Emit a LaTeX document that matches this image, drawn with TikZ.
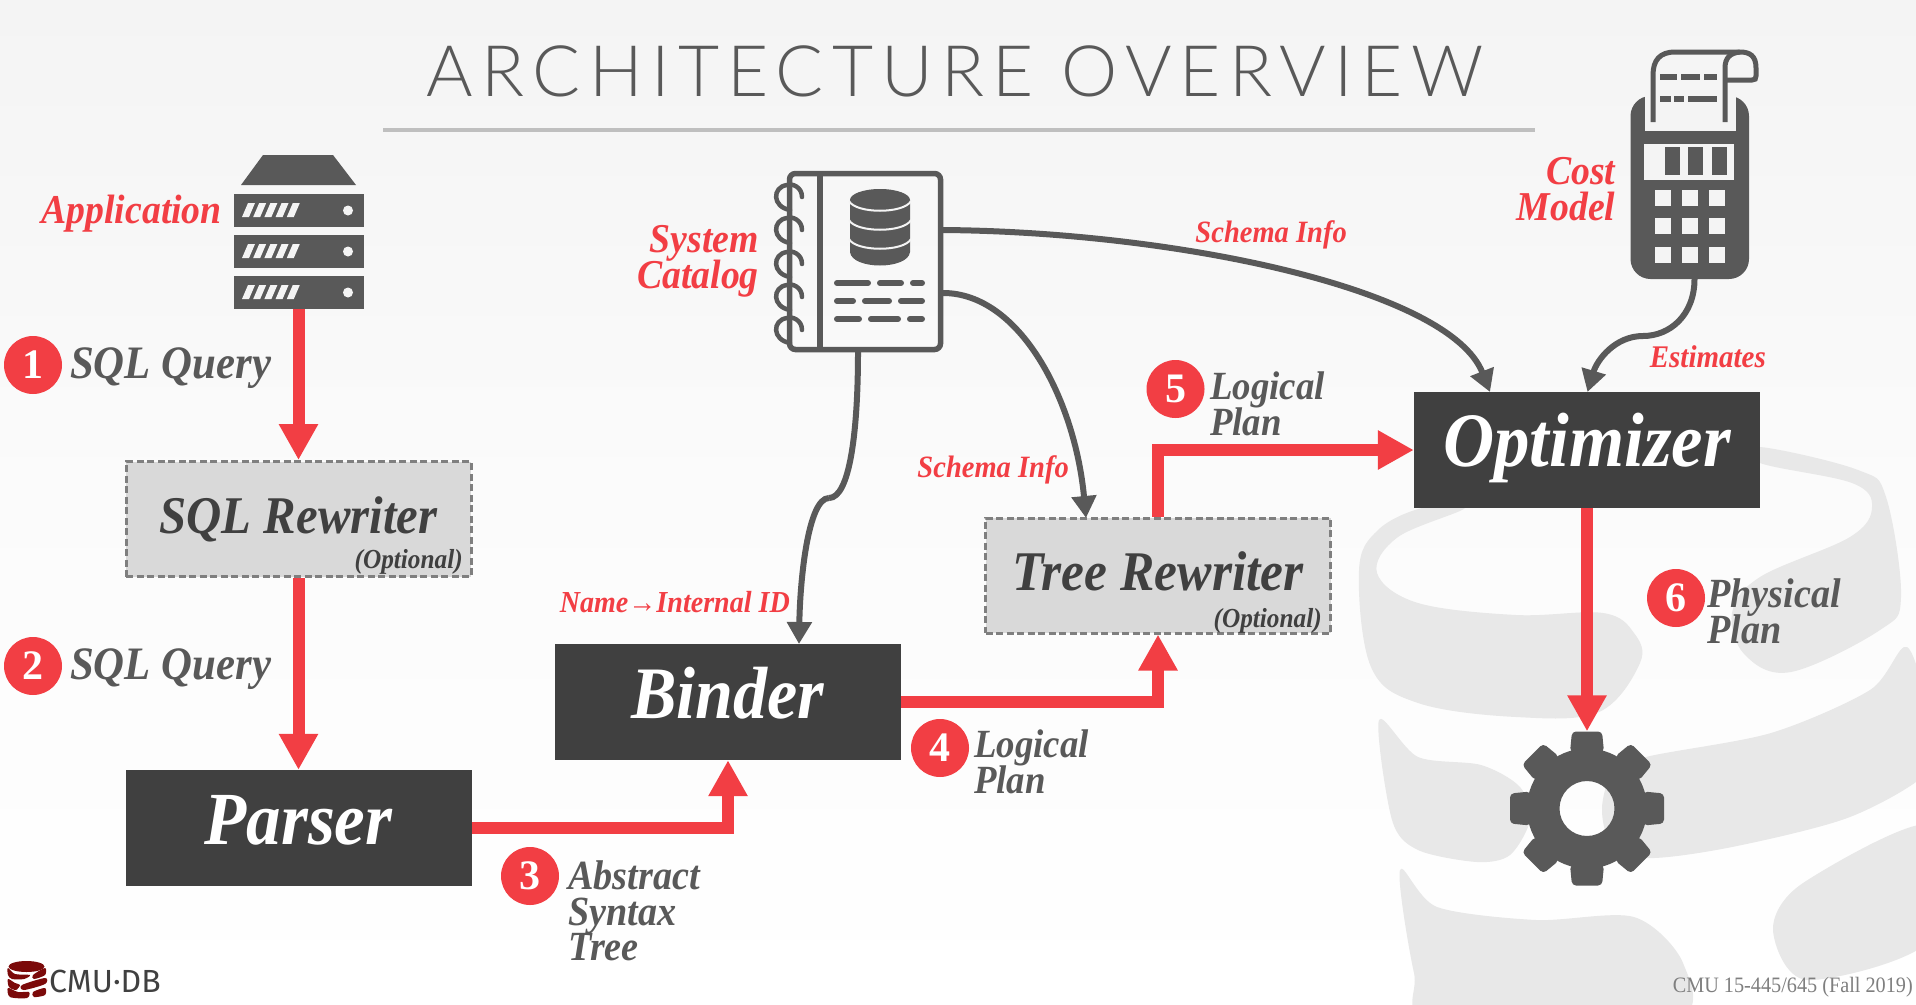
\documentclass[tikz,border=0pt]{standalone}
\usepackage{fontspec}
\setmainfont{Liberation Serif}
\newfontfamily\handfamily[FakeStretch=0.92]{Liberation Serif}
\newfontfamily\titlefamily[LetterSpace=11.7]{Lato Light}
\newfontfamily\logofamily{Fira Sans}
\usetikzlibrary{arrows.meta}
\AtBeginDocument{\lineskiplimit=-100pt\relax}

\definecolor{slidered}{HTML}{F23E44}
\definecolor{icondark}{HTML}{595959}
\definecolor{boxdark}{HTML}{404040}
\definecolor{boxlight}{HTML}{D9D9D9}
\definecolor{boxdash}{HTML}{7F7F7F}
\definecolor{wmark}{HTML}{E8E8E8}
\definecolor{bgtop}{HTML}{F4F4F4}
\definecolor{logored}{HTML}{7B0A0A}

\tikzset{
  hand/.style={font=\handfamily\fontsize{#1}{35.5}\selectfont\bfseries\itshape},
  redtext/.style={hand=#1, text=slidered, inner sep=0, anchor=base east, align=right},
  greytext/.style={hand=#1, text=icondark, inner sep=0, anchor=base west, align=left},
  darkbox/.style={fill=boxdark, text=white, hand=#1, minimum width=346, minimum height=116, inner sep=0, text height=33, text depth=0},
  optbox/.style={fill=boxlight, draw=boxdash, line width=3, dash pattern=on 7 off 3.5, text=boxdark, hand=#1, minimum width=345, minimum height=115, inner sep=0, text height=29, text depth=0},
  optnote/.style={hand=27.5, text=boxdark, inner sep=0, anchor=base east},
  badge/.style={circle, fill=slidered, text=white, font=\fontsize{42}{42}\selectfont\bfseries, minimum size=58, inner sep=0},
  flow/.style={draw=slidered, line width=12, -{Triangle[length=36,width=37,sep=0]}},
  info/.style={draw=icondark, line width=6, -{Triangle[length=22,width=24,sep=0]}},
  iconline/.style={draw=icondark, line width=5, line cap=round},
}

\begin{document}
\begin{tikzpicture}[x=1pt, y=-1pt]

\useasboundingbox (0,0) rectangle (1916,1004);
\shade[top color=bgtop, bottom color=white, middle color=bgtop!35!white] (0,0) rectangle (1916,1004);

% watermark
\begin{scope}
\clip (0,0) rectangle (1916,1004);
\fill[wmark] plot[smooth cycle, tension=0.6] coordinates {(1422,508) (1378,530) (1359,570) (1371,667) (1418,703) (1516,717) (1599,712) (1640,663) (1634,633) (1603,613) (1516,615) (1418,603) (1377,573) (1398,537) (1465,508)};
\fill[wmark] plot[smooth cycle, tension=0.6] coordinates {(1760,447) (1858,470) (1886,497) (1901,597) (1880,630) (1791,672) (1745,655) (1732,613) (1760,577) (1850,537) (1872,507) (1852,483) (1760,463)};
\fill[wmark] plot[smooth cycle, tension=0.5] coordinates {(1646,757) (1771,733) (1870,690) (1907,647) (1930,720) (1930,770) (1850,817) (1732,847) (1646,858) (1610,840) (1602,808) (1612,775)};
\fill[wmark] plot[smooth cycle, tension=0.5] coordinates {(1379,720) (1418,757) (1481,765) (1520,787) (1530,820) (1510,855) (1477,862) (1418,850) (1392,820)};
\fill[wmark] plot[smooth cycle, tension=0.5] coordinates {(1400,870) (1437,907) (1536,920) (1634,917) (1683,963) (1673,1020) (1434,1020) (1414,973)};
\fill[wmark] plot[smooth cycle, tension=0.5] coordinates {(1930,825) (1803,883) (1773,930) (1807,980) (1930,940)};
\end{scope}

% title
\node[font=\titlefamily\fontsize{71}{71}\selectfont, text=icondark, inner sep=0, anchor=base] (title) at (955,96.5) {ARCHITECTURE OVERVIEW};
\fill[white!75!black] (383,128.2) rectangle (1535,131.8);

% boxes
\node[optbox=53] (sqlrw) at (298.5,519) {SQL Rewriter};
\node[darkbox=75] (parser) at (298.5,828) {Parser};
\node[darkbox=74] (binder) at (728,702) {Binder};
\node[optbox=56] (treerw) at (1158,575.5) {Tree Rewriter};
\node[darkbox=77] (optimizer) at (1587,450) {Optimizer};
\node[optnote] (sqlnote) at (463,568) {(Optional)};
\node[optnote] (treenote) at (1322,627) {(Optional)};

% server
\node[minimum width=130, minimum height=154, inner sep=0] (app) at (298.5,232) {};
\fill[icondark] (263,155) -- (333,155) -- (356,185) -- (241,185) -- cycle;
\foreach \y in {194,235,276} {
  \fill[icondark] (233.5,\y) rectangle (363.5,\y+33);
  \fill[bgtop] (348,\y+16.5) circle (5);
  \foreach \i in {0,...,4}
    \fill[bgtop] (242+\i*11.2,\y+23) -- (249+\i*11.2,\y+23) -- (255+\i*11.2,\y+9) -- (248+\i*11.2,\y+9) -- cycle;
}

% notebook
\node[minimum width=156, minimum height=181, inner sep=0] (catalog) at (865,261.5) {};
\draw[icondark, line width=5.5, rounded corners=6] (789.5,173.5) rectangle (940.5,349.5);
\draw[icondark, line width=5.5] (820,173.5) -- (820,349.5);
\foreach \y in {195,228,262,295,328}
  \draw[icondark, line width=4.5, line cap=round] (802,\y+2) .. controls (802,\y-8) and (792,\y-12) .. (787,\y-10) .. controls (772,\y-8) and (772,\y+12) .. (790,\y+15);
\fill[icondark] (850,200) -- (850,252) .. controls (852,270) and (908,270) .. (910,252) -- (910,200) -- cycle;
\fill[icondark] (880,200) ellipse (30 and 11);
\foreach \y in {201,220,239}
  \draw[bgtop, line width=2] (849,\y) .. controls (856,\y+13) and (904,\y+13) .. (911,\y);
\foreach \y/\a/\b/\c/\d/\e/\f in {283/834/871/877/904/910/925, 301/834/856/862/892/898/925, 319/834/862/868/901/907/925} {
  \draw[iconline, line width=6] (\a+3,\y) -- (\b-3,\y);
  \draw[iconline, line width=6] (\c+3,\y) -- (\d-3,\y);
  \draw[iconline, line width=6] (\e+3,\y) -- (\f-3,\y);
}

% calculator
\node[minimum width=118, minimum height=183, inner sep=0] (cost) at (1690,187.5) {};
\fill[icondark, rounded corners=20] (1630.5,96) rectangle (1749,279);
\fill[bgtop] (1645,90) rectangle (1735.5,130.7);
\fill[bgtop] (1643.5,143.7) rectangle (1734,180);
\foreach \x in {1665,1688,1712}
  \fill[icondark] (\x,147) rectangle (\x+15,175);
\foreach \x in {1655,1681.5,1708.5}
  \foreach \y in {190,217.7,246.7}
    \fill[bgtop] (\x,\y) rectangle (\x+16,\y+16);
\draw[icondark, line width=5] (1653,122) -- (1653,75) .. controls (1653,60) and (1660,52) .. (1675,52) -- (1740,52) .. controls (1750,52) and (1756,56) .. (1756,68) -- (1756,76) .. controls (1756,79) and (1755,80) .. (1752,80) -- (1725,80);
\draw[icondark, line width=5] (1725,122) -- (1725,68) .. controls (1725,58) and (1730,53) .. (1740,52);
\foreach \y/\a/\b/\c/\d/\e/\f in {76.7/1660/1677/1681/1700/1704/1717, 98.7/1660/1670.6/1674/1684/1688/1717} {
  \draw[iconline, line width=6, line cap=butt] (\a,\y) -- (\b,\y);
  \draw[iconline, line width=6, line cap=butt] (\c,\y) -- (\d,\y);
  \draw[iconline, line width=6, line cap=butt] (\e,\y) -- (\f,\y);
}

% gear
\node[circle, minimum size=154, inner sep=0] (gear) at (1587,808.5) {};
\fill[icondark, even odd rule] (gear.center) circle (60) (gear.center) circle (27.5);
\foreach \a in {0,45,...,315}
  \fill[icondark, rounded corners=4, rotate around={\a:(gear.center)}] (1570,752) -- (1572,731.5) -- (1602,731.5) -- (1604,752) -- cycle;

% flow
\draw[flow] (app.south) -- (sqlrw.north);
\draw[flow] (sqlrw.south) -- (parser.north);
\draw[flow] (parser.east) -| (binder.south);
\draw[flow] (binder.east) -| (treerw.south);
\draw[flow] (treerw.north) |- (optimizer.west);
\draw[flow] (optimizer.south) -- (gear.north);

% info lines
\coordinate (upperbend) at (829,498);
\coordinate (estbend) at (1643,336);
\coordinate (topout) at (943,230);
\coordinate (lowout) at (943,293);
\coordinate (topin) at (1490,392);
\coordinate (estin) at (1587.5,392);
\coordinate (treein) at (1086,518);
\coordinate (binderin) at (799,644);
\coordinate (binderout) at (858,352);
\coordinate (costout) at (1694.5,279);
\draw[info] (topout) .. controls (1180,232) and (1450,290) .. (topin);
\draw[info] (lowout) .. controls (1020,293) and (1075,400) .. (treein);
\draw[icondark, line width=6] (binderout) .. controls (858,430) and (850,498) .. (upperbend);
\draw[info] (upperbend) .. controls (808,498) and (800,580) .. (binderin);
\draw[icondark, line width=6] (costout) .. controls (1694.5,315) and (1670,336) .. (estbend);
\draw[info] (estbend) .. controls (1615,336) and (1597,360) .. (estin);

% red labels
\node[redtext=41] (applbl) at (222,223) {Application};
\node[redtext=41] (catlbl) at (759,288) {System\\Catalog};
\node[redtext=41] (costlbl) at (1615.5,220) {Cost\\Model};
\node[redtext=31] (schema1) at (1347,242) {Schema Info};
\node[redtext=31] (schema2) at (1069,477) {Schema Info};
\node[redtext=30.5] (namelbl) at (790,612) {Name→Internal ID};
\node[redtext=31.5] (estlbl) at (1766,367) {Estimates};

% steps
\node[badge] (s1) at (33,365) {1};
\node[badge] (s2) at (33,666) {2};
\node[badge] (s3) at (530,876) {3};
\node[badge] (s4) at (940,748) {4};
\node[badge] (s5) at (1175.5,389) {5};
\node[badge] (s6) at (1676,598) {6};
\node[greytext=46.5] (q1) at (70,378) {SQL Query};
\node[greytext=46.5] (q2) at (70,679) {SQL Query};
\node[greytext=41.5] (ast) at (568,960.5) {Abstract\\Syntax\\Tree};
\node[greytext=40] (lp4) at (974,793) {Logical\\Plan};
\node[greytext=40] (lp5) at (1210,435) {Logical\\Plan};
\node[greytext=41.5] (phys) at (1707,643) {Physical\\Plan};

% footer
\node[font=\handfamily\fontsize{22}{22}\selectfont, text=boxdash, inner sep=0, anchor=base east] (footer) at (1913,992.7) {CMU 15-445/645 (Fall 2019)};
\node[font=\logofamily\fontsize{32}{32}\selectfont, text=boxdark, inner sep=0, anchor=base west] (cmulogo) at (49,992) {CMU·DB};
\fill[logored] (26.5,966.5) ellipse (18 and 5.5);
\fill[logored] plot[smooth cycle, tension=0.5] coordinates {(8,968) (15,974) (30,975) (24,979) (12,979) (8,975)};
\fill[logored] plot[smooth cycle, tension=0.5] coordinates {(45,968) (45,975) (34,979) (33,975)};
\fill[logored] plot[smooth cycle, tension=0.5] coordinates {(8,979) (15,983) (20,985) (16,990) (9,987)};
\fill[logored] plot[smooth cycle, tension=0.5] coordinates {(45,978) (45,984) (24,990) (22,985)};
\fill[logored] plot[smooth cycle, tension=0.5] coordinates {(8,988) (18,992) (29,992) (27,998) (10,997)};
\fill[logored] plot[smooth cycle, tension=0.5] coordinates {(45,988) (45,995) (34,997) (33,992)};

\end{tikzpicture}
\end{document}
